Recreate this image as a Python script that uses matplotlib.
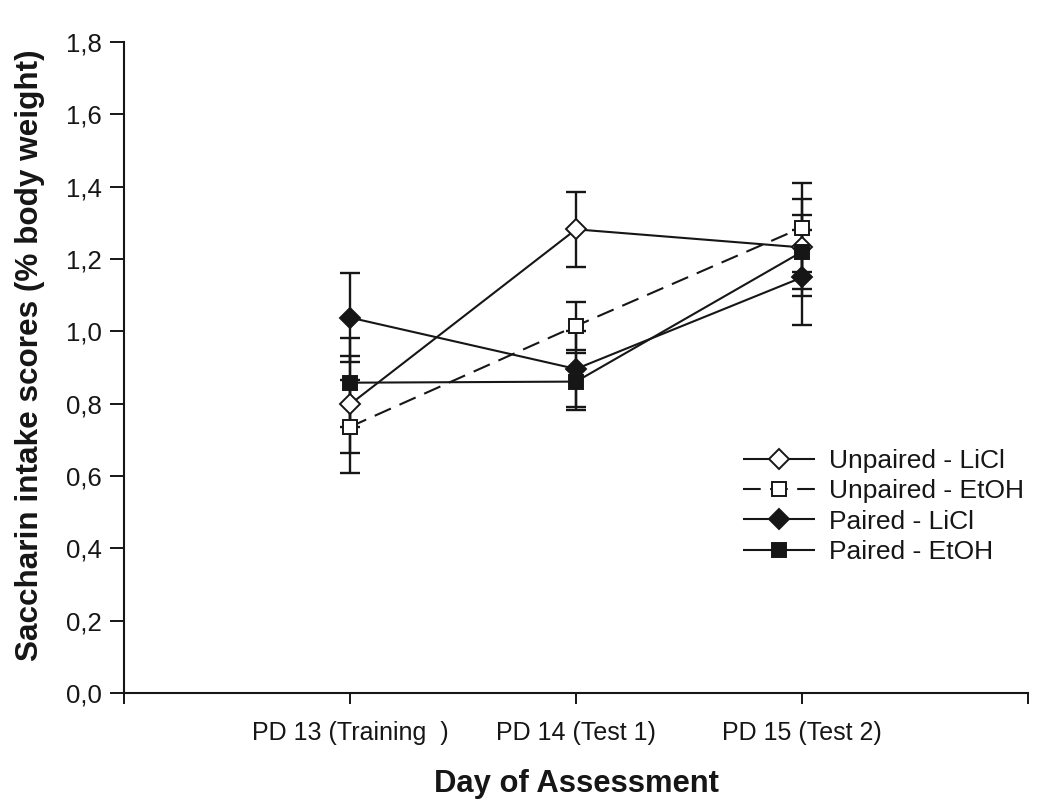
import matplotlib
matplotlib.use("Agg")
import matplotlib.pyplot as plt
from matplotlib.ticker import FuncFormatter

plt.rcParams['font.family'] = ['Liberation Sans', 'DejaVu Sans']

# ---- data ----
days = ["PD 13 (Training  )", "PD 14 (Test 1)", "PD 15 (Test 2)"]
day_pos = [1, 2, 3]

unpaired_licl = [0.798, 1.282, 1.232]
unpaired_licl_se = [0.135, 0.103, 0.134]

unpaired_etoh = [0.736, 1.015, 1.287]
unpaired_etoh_se = [0.129, 0.066, 0.124]

paired_licl = [1.038, 0.896, 1.149]
paired_licl_se = [0.124, 0.104, 0.132]

paired_etoh = [0.858, 0.861, 1.220]
paired_etoh_se = [0.123, 0.079, 0.102]

labels = ["Unpaired - LiCl", "Unpaired - EtOH", "Paired - LiCl", "Paired - EtOH"]

# ---- figure ----
W, H = 1050, 810
fig = plt.figure(figsize=(W / 100, H / 100), dpi=100)
ax = fig.add_axes([124 / W, 117 / H, (1028 - 124) / W, (693 - 42) / H])

INK = '#161616'
series = [
    (unpaired_licl, unpaired_licl_se, 'D', 'white', (0, ()), 10.3),
    (unpaired_etoh, unpaired_etoh_se, 's', 'white', (0, (8.5, 4.5)), 10.5),
    (paired_licl, paired_licl_se, 'D', INK, (0, ()), 10.3),
    (paired_etoh, paired_etoh_se, 's', INK, (0, ()), 10.5),
]

handles = []
for (vals, se, mk, fc, ls, ms), lab in zip(series, labels):
    ax.errorbar(day_pos, vals, yerr=se, fmt='none', ecolor=INK,
                elinewidth=1.7, capsize=7, capthick=1.7, zorder=2)
    ln, = ax.plot(day_pos, vals, color=INK, linestyle=ls, linewidth=1.5,
                  marker=mk, markersize=ms, markerfacecolor=fc,
                  markeredgecolor=INK, markeredgewidth=1.4, label=lab, zorder=3)
    handles.append(ln)

ax.set_xlim(0, 4)
ax.set_ylim(0, 1.8)
ax.set_xticks([0, 1, 2, 3, 4])
ax.set_xticklabels([""] + days + [""])
ax.set_yticks([0, 0.2, 0.4, 0.6, 0.8, 1.0, 1.2, 1.4, 1.6, 1.8])
ax.yaxis.set_major_formatter(FuncFormatter(lambda v, p: f"{v:.1f}".replace('.', ',')))
ax.tick_params(axis='y', direction='out', length=10, width=1.4, pad=6, labelsize=18.5, colors=INK)
ax.tick_params(axis='x', direction='out', length=8, width=1.4, pad=12, labelsize=18, colors=INK)

for s in ['top', 'right']:
    ax.spines[s].set_visible(False)
for s in ['left', 'bottom']:
    ax.spines[s].set_linewidth(1.5)
    ax.spines[s].set_color(INK)

fig.text(30 / W, 1 - 355 / H, "Saccharin intake scores (% body weight)", rotation=90,
         ha='center', va='center', fontsize=22.7, fontweight='bold', color=INK)
fig.text(576 / W, 1 - 784 / H, "Day of Assessment", ha='center', va='center',
         fontsize=22.3, fontweight='bold', color=INK)

leg = ax.legend(handles=handles, loc='upper left', bbox_to_anchor=(743 / W, 1 - 449 / H),
                bbox_transform=fig.transFigure, frameon=False, fontsize=19,
                handlelength=2.73, handletextpad=0.53, labelspacing=0.24, borderpad=0,
                borderaxespad=0)
for t in leg.get_texts():
    t.set_color(INK)

fig.savefig("out.png", dpi=100, facecolor='white')
